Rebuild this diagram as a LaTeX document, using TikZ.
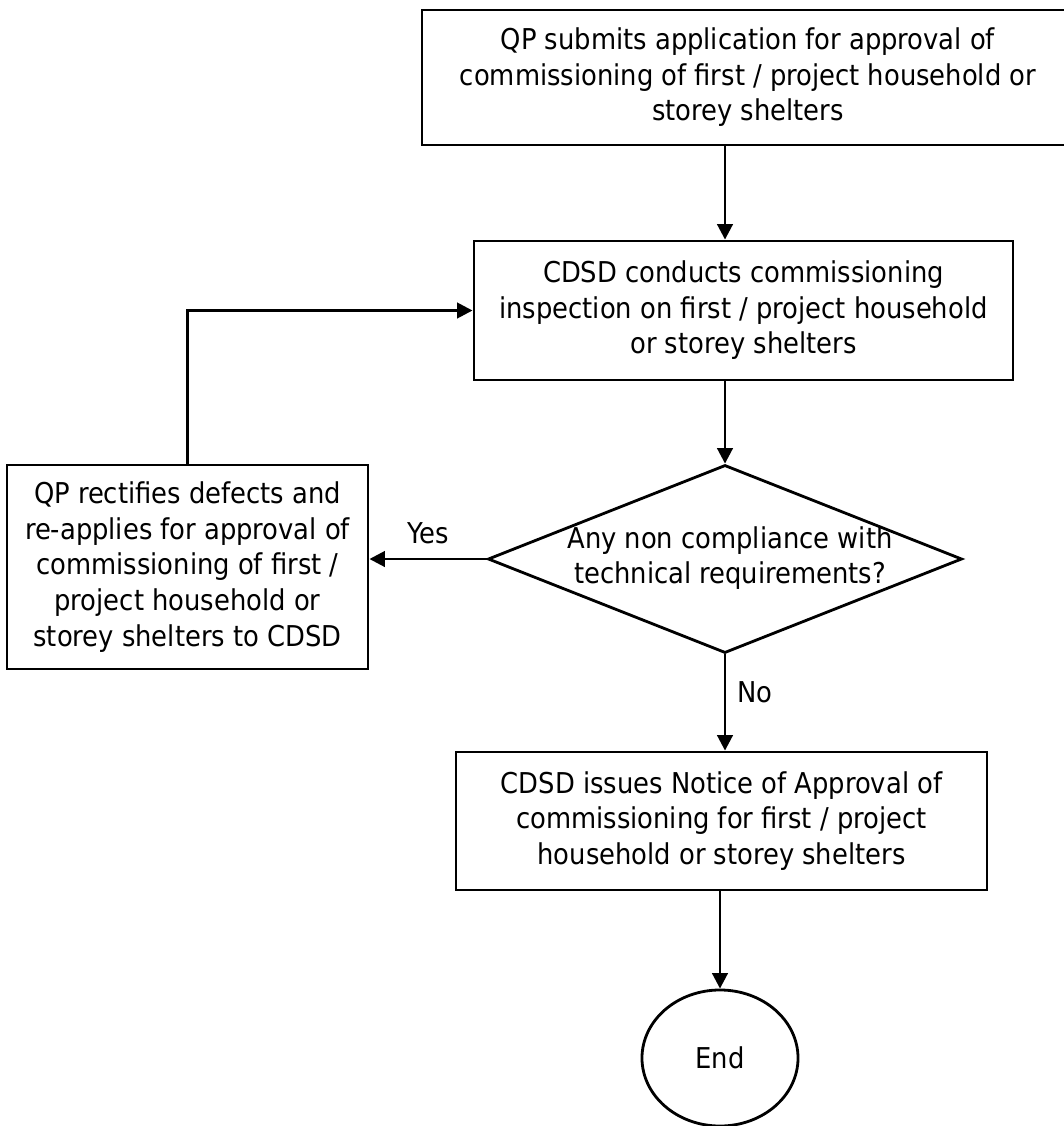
\documentclass[tikz,border=0pt]{standalone}
\usepackage{fontspec}
\setmainfont{DejaVu Sans Condensed}
\usetikzlibrary{arrows.meta, shapes.geometric}

\begin{document}
\begin{tikzpicture}[x=0.025cm,y=-0.025cm,line width=2pt,
    every node/.style={font=\fontsize{20.4}{25.3}\selectfont,align=center,inner sep=0pt},
    stepbox/.style={draw,rectangle},
    flow/.style={-{Triangle[length=11pt,width=11pt]}}]
    \useasboundingbox (0,0) rectangle (1064,1126);
    \clip (0,0) rectangle (1064,1126);
    \node[stepbox,minimum width=16.3cm,minimum height=3.375cm] (submit) at (748,77.5)
    {QP submits application for approval of\\commissioning of first / project household or\\storey shelters};
    \node[stepbox,minimum width=13.475cm,minimum height=3.475cm] (inspect) at (743.5,310.5)
    {CDSD conducts commissioning\\inspection on first / project household\\or storey shelters};
    \node[draw,diamond,minimum width=11.85cm,minimum height=4.7cm] (check) at (725,559) {};
    \node (checktext) at (730,558) {Any non compliance with\\technical requirements?};
    \node[stepbox,minimum width=9.025cm,minimum height=5.1cm] (rectify) at (187.5,567)
    {QP rectifies defects and\\re-applies for approval of\\commissioning of first /\\project household or\\storey shelters to CDSD};
    \node[stepbox,minimum width=13.275cm,minimum height=3.45cm] (approve) at (721.5,821)
    {CDSD issues Notice of Approval of\\commissioning for first / project\\household or storey shelters};
    \node[draw,ellipse,minimum width=3.9cm,minimum height=3.4cm] (finish) at (720,1058) {End};
    \node (yes) at (428,533) {Yes};
    \node (no) at (755,692) {No};
    % connectors
    \draw[flow] (submit.south -| check) -- (inspect.north -| check);
    \draw[flow] (inspect.south -| check.north) -- (check.north);
    \draw[flow] (check.west) -- (check.west -| rectify.east);
    \draw[flow] (rectify.north) |- (inspect.west);
    \draw[flow] (check.south) -- (check.south |- approve.north);
    \draw[flow] (approve.south -| finish.north) -- (finish.north);
\end{tikzpicture}
\end{document}
